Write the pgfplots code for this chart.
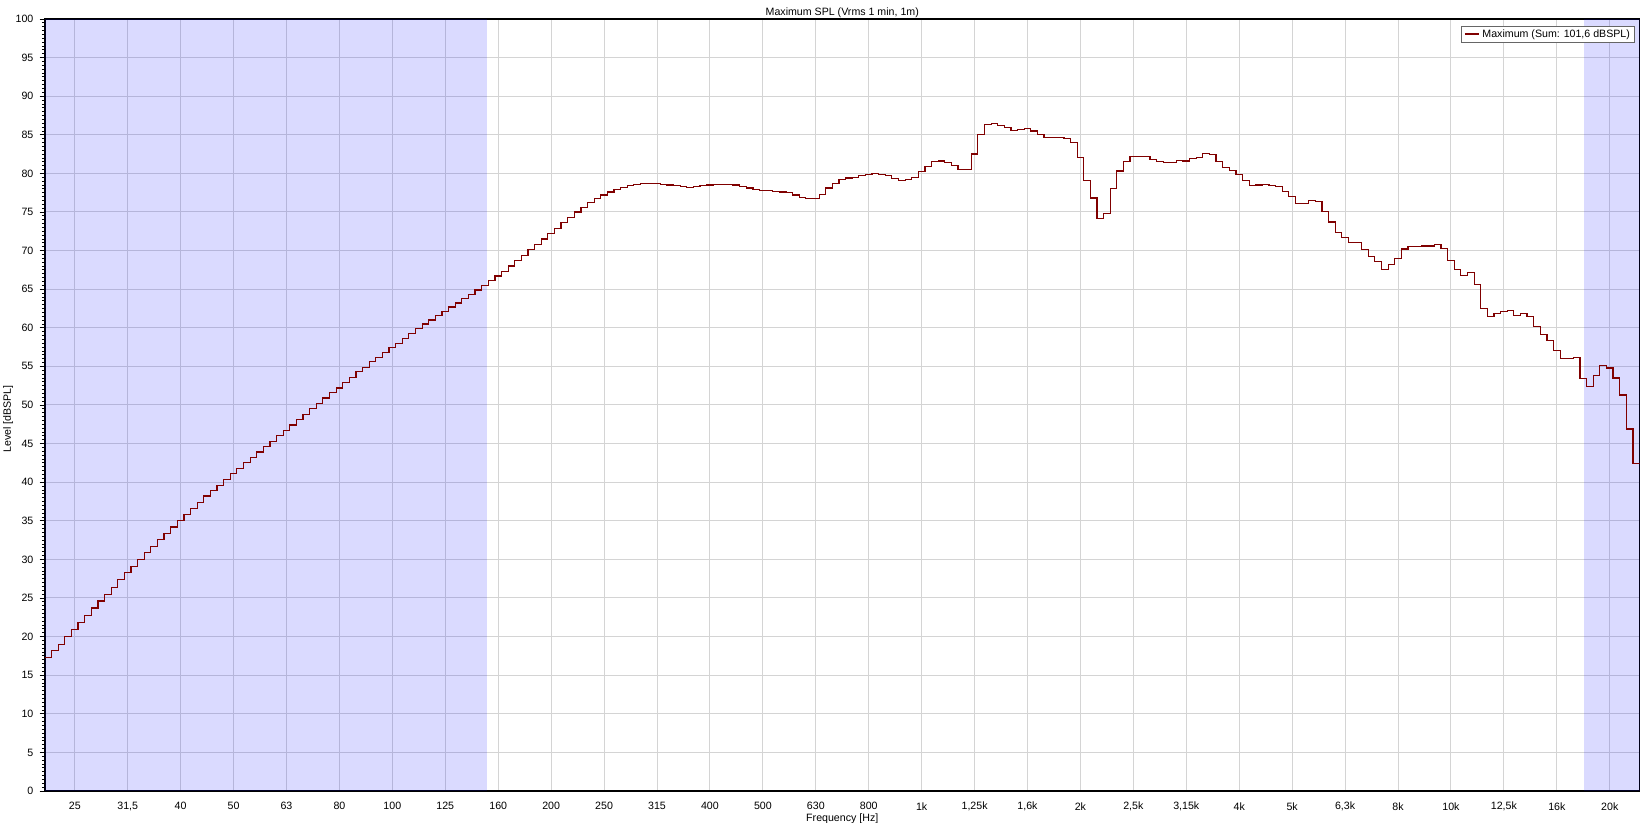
\documentclass[border=0pt]{standalone}
\usepackage{fontspec}
\setmainfont{Liberation Sans}
\usepackage{pgfplots}
\pgfplotsset{compat=1.18}

\definecolor{curve}{RGB}{128,0,0}
\definecolor{band}{RGB}{0,0,255}
\definecolor{gridc}{RGB}{212,212,212}

% x is the 1/24-octave band index relative to 1 kHz (f = 1000*2^(k/24)),
% so the axis is linear in k and reads as a log frequency axis.
\begin{document}
\begin{tikzpicture}
\begin{axis}[
    at={(0,0)}, anchor=south west,
    scale only axis, width=1195.9bp, height=579bp,
    xmin=-132.5, xmax=108.5,
    ymin=0, ymax=100,
    font=\fontsize{8}{9.6}\selectfont,
    /pgf/number format/assume math mode=true,
    xtick={-128,-120,...,104},
    xticklabels={25,{31,5},40,50,63,80,100,125,160,200,250,315,400,500,630,800,
        1k,{1,25k},{1,6k},2k,{2,5k},{3,15k},4k,5k,{6,3k},8k,10k,{12,5k},16k,20k},
    ytick={0,5,...,100},
    minor y tick num=9,
    xtick pos=bottom, ytick pos=left,
    tick align=outside,
    major tick length=4bp, minor tick length=2.3bp,
    xtick style={draw=none},
    tick style={black, line width=0.6bp},
    axis line style={black, line width=1.1bp},
    grid=major,
    grid style={gridc, line width=0.75bp},
    xticklabel style={anchor=center, yshift=-7.5bp, inner sep=0pt},
    yticklabel style={anchor=east, inner sep=0pt, xshift=-4.5bp},
    title={Maximum SPL (Vrms 1 min, 1m)},
    every axis title/.style={at={(axis description cs:0.5,1.0086)}, anchor=center, inner sep=0pt},
    xlabel={Frequency [Hz]},
    xlabel style={at={(axis description cs:0.5,-0.0363)}, anchor=center, inner sep=0pt},
    ylabel={Level [dBSPL]},
    ylabel style={at={(axis description cs:-0.0232,0.482)}, anchor=center, inner sep=0pt},
    legend style={at={(1,1)}, anchor=north east, xshift=-3.4bp, yshift=-5.25bp,
        draw=black!60, fill=white, line width=0.6bp, inner xsep=1.5bp, inner ysep=0.3bp,
        font=\fontsize{8}{9}\selectfont, cells={anchor=west}},
    legend image code/.code={\draw[#1, line width=1.5bp] (0bp,0bp) -- (10.5bp,0bp);},
]
% shaded ranges below 150 Hz and above 18 kHz
\addplot[draw=none, fill=band, fill opacity=0.145, forget plot]
    coordinates {(-132.5,0) (-65.7,0) (-65.7,100) (-132.5,100)} -- cycle;
\addplot[draw=none, fill=band, fill opacity=0.145, forget plot]
    coordinates {(100.1,0) (108.5,0) (108.5,100) (100.1,100)} -- cycle;

\addplot[curve, line width=0.9bp, const plot mark mid] coordinates {
 (-132.5,17.3)
 (-132,17.3) (-131,18.2) (-130,19.0) (-129,20.0) (-128,20.9) (-127,21.8) (-126,22.7) (-125,23.7)
 (-124,24.6) (-123,25.5) (-122,26.4) (-121,27.4) (-120,28.3) (-119,29.1) (-118,30.0) (-117,30.9)
 (-116,31.7) (-115,32.6) (-114,33.4) (-113,34.2) (-112,35.0) (-111,35.8) (-110,36.6) (-109,37.4)
 (-108,38.2) (-107,38.9) (-106,39.6) (-105,40.4) (-104,41.1) (-103,41.8) (-102,42.5) (-101,43.2)
 (-100,43.9) (-99,44.6) (-98,45.3) (-97,46.0) (-96,46.7) (-95,47.4) (-94,48.1) (-93,48.8)
 (-92,49.5) (-91,50.2) (-90,50.9) (-89,51.6) (-88,52.2) (-87,52.9) (-86,53.6) (-85,54.3)
 (-84,54.9) (-83,55.6) (-82,56.2) (-81,56.8) (-80,57.4) (-79,58.0) (-78,58.6) (-77,59.3)
 (-76,59.9) (-75,60.5) (-74,61.0) (-73,61.6) (-72,62.1) (-71,62.7) (-70,63.2) (-69,63.8)
 (-68,64.3) (-67,64.9) (-66,65.5) (-65,66.1) (-64,66.7) (-63,67.3) (-62,68.0) (-61,68.7)
 (-60,69.4) (-59,70.1) (-58,70.8) (-57,71.5) (-56,72.2) (-55,72.9) (-54,73.6) (-53,74.3)
 (-52,75.0) (-51,75.6) (-50,76.2) (-49,76.7) (-48,77.2) (-47,77.6) (-46,77.9) (-45,78.2)
 (-44,78.4) (-43,78.6) (-42,78.7) (-41,78.7) (-40,78.7) (-39,78.6) (-38,78.5) (-37,78.4)
 (-36,78.3) (-35,78.2) (-34,78.3) (-33,78.4) (-32,78.5) (-31,78.6) (-30,78.6) (-29,78.6)
 (-28,78.5) (-27,78.3) (-26,78.1) (-25,77.9) (-24,77.8) (-23,77.8) (-22,77.7) (-21,77.6)
 (-20,77.5) (-19,77.2) (-18,76.9) (-17,76.7) (-16,76.7) (-15,77.3) (-14,78.1) (-13,78.7)
 (-12,79.2) (-11,79.4) (-10,79.5) (-9,79.7) (-8,79.9) (-7,80.0) (-6,79.9) (-5,79.7)
 (-4,79.3) (-3,79.1) (-2,79.2) (-1,79.5) (0,80.2) (1,80.9) (2,81.5) (3,81.6)
 (4,81.4) (5,81.0) (6,80.5) (7,80.5) (8,82.5) (9,85.0) (10,86.3) (11,86.5)
 (12,86.2) (13,85.9) (14,85.6) (15,85.7) (16,85.8) (17,85.5) (18,85.0) (19,84.7)
 (20,84.7) (21,84.7) (22,84.5) (23,84.0) (24,82.1) (25,79.1) (26,76.8) (27,74.2)
 (28,74.8) (29,78.0) (30,80.3) (31,81.5) (32,82.2) (33,82.2) (34,82.2) (35,81.8)
 (36,81.5) (37,81.4) (38,81.4) (39,81.7) (40,81.6) (41,81.9) (42,82.1) (43,82.6)
 (44,82.4) (45,81.5) (46,80.8) (47,80.4) (48,79.9) (49,79.1) (50,78.4) (51,78.5)
 (52,78.6) (53,78.4) (54,78.3) (55,77.7) (56,77.0) (57,76.1) (58,76.1) (59,76.5)
 (60,76.4) (61,75.1) (62,73.7) (63,72.3) (64,71.7) (65,71.0) (66,71.0) (67,70.1)
 (68,69.2) (69,68.6) (70,67.6) (71,68.2) (72,69.0) (73,70.2) (74,70.5) (75,70.5)
 (76,70.6) (77,70.6) (78,70.8) (79,70.3) (80,68.7) (81,67.6) (82,66.8) (83,67.2)
 (84,65.6) (85,62.5) (86,61.5) (87,61.8) (88,62.1) (89,62.2) (90,61.6) (91,61.8)
 (92,61.5) (93,60.2) (94,59.1) (95,58.4) (96,57.1) (97,56.0) (98,56.0) (99,56.2)
 (100,53.4) (101,52.4) (102,53.8) (103,55.1) (104,54.8) (105,53.5) (106,51.3) (107,46.9)
 (108,42.4)
 (108.5,42.4)
};
\addlegendentry{Maximum (Sum: 101,6 dBSPL)}
\end{axis}
\pgfresetboundingbox
\path[use as bounding box] (-33.75bp,-24bp) rectangle (1200bp,593.25bp);
\end{tikzpicture}
\end{document}
